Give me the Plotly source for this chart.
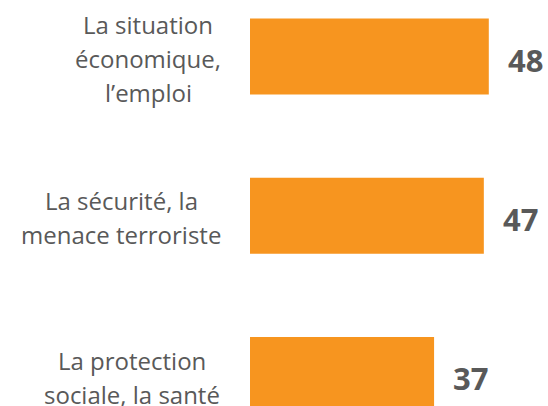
import plotly.graph_objects as go

categories = [
    ["La situation", "économique,", "l’emploi"],
    ["La sécurité, la", "menace terroriste"],
    ["La protection", "sociale, la santé"],
]
values = [48, 47, 37]

BAR_COLOR = "#F7951F"
TEXT_COLOR = "#595959"
W, H = 548, 406
LEFT = 250
PX_PER_UNIT = 4.975
ROW_PX = 159.25
TOP_CENTER = 56.5
LINE_PX = 34
# approximate horizontal centres of each label block (px)
label_centers_px = [148, 121, 132]

ypos = list(range(len(values)))
fig = go.Figure(go.Bar(
    x=values, y=ypos, orientation="h",
    marker=dict(color=BAR_COLOR, line=dict(width=0)),
    width=76 / ROW_PX, hoverinfo="skip",
))

y_top = -TOP_CENTER / ROW_PX
y_bot = y_top + H / ROW_PX
x_max = (W - LEFT) / PX_PER_UNIT

annotations = []
for i, (lines, v) in enumerate(zip(categories, values)):
    n = len(lines)
    cx = (label_centers_px[i] - LEFT) / (W - LEFT)
    for j, line in enumerate(lines):
        annotations.append(dict(
            x=cx, xref="paper", y=i, yref="y",
            text=line, showarrow=False, xanchor="center", yanchor="middle",
            yshift=-(j - (n - 1) / 2) * LINE_PX - 2,
            font=dict(family="Open Sans", size=24, color=TEXT_COLOR),
        ))
    annotations.append(dict(
        x=v, xref="x", y=i, yref="y", text=f"<b>{v}</b>", showarrow=False,
        xanchor="left", yanchor="middle", xshift=17, yshift=-3,
        font=dict(family="Open Sans", size=31, color=TEXT_COLOR),
    ))

fig.update_layout(
    width=W, height=H,
    margin=dict(l=LEFT, r=0, t=0, b=0),
    paper_bgcolor="white", plot_bgcolor="white",
    showlegend=False,
    xaxis=dict(range=[0, x_max], visible=False, fixedrange=True),
    yaxis=dict(range=[y_bot, y_top], visible=False, fixedrange=True),
    annotations=annotations,
)

fig.write_html(
    "out.html",
    config={"displayModeBar": False},
    post_script="document.body.style.margin='0px';document.body.style.overflow='hidden';",
)
